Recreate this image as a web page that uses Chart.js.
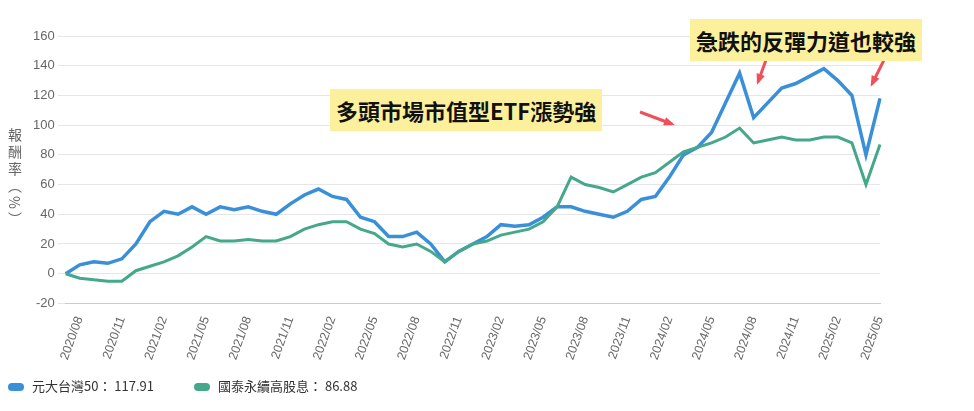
<!DOCTYPE html>
<html>
<head>
<meta charset="utf-8">
<script src="https://cdn.jsdelivr.net/npm/chart.js@4"></script>
<style>
  body { margin: 0; background: #fff; font-family: "Noto Sans CJK TC", "Noto Sans", sans-serif; }
  #wrap { position: relative; width: 974px; height: 411px; }
  #c { position: absolute; left: 0; top: 0; }
  .note { position: absolute; background: #fdf09c; font-weight: bold; font-size: 22px; color: #111; padding: 4px 6px; line-height: 34px; }
  #ytitle { position: absolute; left: 5px; top: 128px; writing-mode: vertical-rl; font-size: 14px; color: #666; letter-spacing: 3px; }
  #legend { position: absolute; left: 8px; top: 376px; font-size: 13px; color: #333; display: flex; gap: 40px; }
  #legend span.sw { display: inline-block; width: 16px; height: 8px; border-radius: 5px; margin-right: 8px; vertical-align: middle; }
</style>
</head>
<body>
<div id="wrap">
  <canvas id="c" width="974" height="411"></canvas>
  <div id="ytitle">報酬率（%）</div>
  <div class="note" style="left:330px; top:89px;">多頭市場市值型ETF漲勢強</div>
  <div class="note" style="left:690px; top:19px;">急跌的反彈力道也較強</div>
  <div id="legend">
    <div><span class="sw" style="background:#3a8fd9"></span>元大台灣50： 117.91</div>
    <div><span class="sw" style="background:#45a88a"></span>國泰永續高股息： 86.88</div>
  </div>
</div>
<script>
const months = [];
for (let y = 2020; y <= 2025; y++) {
  for (let m = 1; m <= 12; m++) {
    if ((y === 2020 && m < 7) || (y === 2025 && m > 5)) continue;
    months.push(y + '/' + String(m).padStart(2, '0'));
  }
}
// 2020/07 .. 2025/05
const tw50 = [0, 6, 8, 7, 10, 20, 35, 42, 40, 45, 40, 45, 43, 45, 42, 40, 47, 53, 57, 52, 50, 38, 35, 25, 25, 28, 20, 8, 15, 20, 25, 33, 32, 33, 38, 45, 45, 42, 40, 38, 42, 50, 52, 65, 80, 85, 95, 115, 135, 105, 115, 125, 128, 133, 138, 130, 120, 80, 118];
const esg = [0, -3, -4, -5, -5, 2, 5, 8, 12, 18, 25, 22, 22, 23, 22, 22, 25, 30, 33, 35, 35, 30, 27, 20, 18, 20, 15, 8, 15, 20, 22, 26, 28, 30, 35, 45, 65, 60, 58, 55, 60, 65, 68, 75, 82, 85, 88, 92, 98, 88, 90, 92, 90, 90, 92, 92, 88, 60, 87];
const yTicks = [-20, 0, 20, 40, 60, 80, 100, 120, 140, 160];

const arrows = {
  id: 'arrows',
  afterDraw(chart) {
    const ctx = chart.ctx;
    const list = [[640, 112, 672, 124], [766, 60, 758, 82], [884, 60, 872, 84]];
    ctx.save();
    ctx.strokeStyle = '#f0505a';
    ctx.fillStyle = '#f0505a';
    ctx.lineWidth = 3;
    list.forEach(([x1, y1, x2, y2]) => {
      ctx.beginPath(); ctx.moveTo(x1, y1); ctx.lineTo(x2, y2); ctx.stroke();
      const a = Math.atan2(y2 - y1, x2 - x1);
      ctx.beginPath();
      ctx.moveTo(x2 + 3 * Math.cos(a), y2 + 3 * Math.sin(a));
      ctx.lineTo(x2 - 9 * Math.cos(a - 0.5), y2 - 9 * Math.sin(a - 0.5));
      ctx.lineTo(x2 - 9 * Math.cos(a + 0.5), y2 - 9 * Math.sin(a + 0.5));
      ctx.closePath(); ctx.fill();
    });
    ctx.restore();
  }
};

new Chart(document.getElementById('c'), {
  type: 'line',
  data: {
    labels: months,
    datasets: [
      { label: '國泰永續高股息', data: esg, borderColor: '#45a88a', borderWidth: 3, pointRadius: 0, tension: 0 },
      { label: '元大台灣50', data: tw50, borderColor: '#3a8fd9', borderWidth: 3.5, pointRadius: 0, tension: 0 }
    ]
  },
  options: {
    responsive: false,
    animation: false,
    layout: { padding: { left: 30, right: 94, top: 36, bottom: 46 } },
    plugins: { legend: { display: false }, tooltip: { enabled: false } },
    scales: {
      x: {
        offset: false,
        grid: { display: false },
        border: { color: '#ccc' },
        ticks: {
          autoSkip: false, maxRotation: 70, minRotation: 70, color: '#666', font: { size: 12.5 },
          callback: (v, i) => { const m = +months[i].slice(5); return (m - 8 + 12) % 3 === 0 ? months[i] : null; }
        }
      },
      y: {
        min: -20, max: 160,
        afterBuildTicks: s => { s.ticks = yTicks.map(v => ({ value: v })); },
        grid: { color: '#e6e6e6' },
        border: { display: false },
        ticks: { color: '#666', font: { size: 13 } }
      }
    }
  },
  plugins: [arrows]
});
</script>
</body>
</html>
